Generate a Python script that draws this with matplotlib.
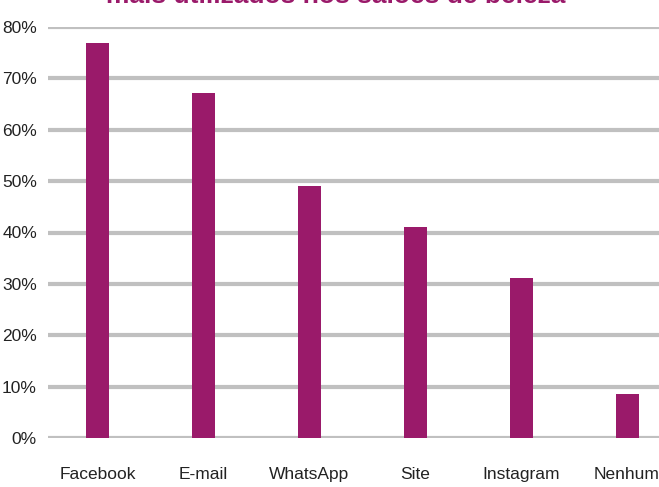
import numpy as np
import matplotlib.pyplot as plt

categories = ["Facebook", "E-mail", "WhatsApp", "Site", "Instagram", "Nenhum"]
values = [76.8, 67.1, 49.0, 41.0, 31.1, 8.6]
yticks = [0, 10, 20, 30, 40, 50, 60, 70, 80]

plt.rcParams['font.family'] = ["Liberation Sans", "DejaVu Sans"]

magenta = "#9a1a6a"

fig = plt.figure(figsize=(6.59, 4.87), dpi=100)
ax = fig.add_axes([48 / 659, 49 / 487, 632 / 659, 411 / 487])

x = np.arange(len(categories))
ax.bar(x, values, width=0.217, color=magenta, zorder=3)

ax.set_xlim(-0.468, 5.5)
ax.set_ylim(0, 80)
ax.set_yticks(yticks)
ax.set_yticklabels([f"{v}%" for v in yticks])
ax.set_xticks(x)
ax.set_xticklabels(categories)
ax.tick_params(axis="both", length=0, labelsize=12.5, colors="#222222")
ax.tick_params(axis="y", pad=8)
ax.tick_params(axis="x", pad=21)
ax.grid(axis="y", color="#c0c0c0", lw=3, zorder=1)
ax.set_axisbelow(True)
for s in ax.spines.values():
    s.set_visible(False)

fig.text(336 / 659, 1 - 3 / 487, "mais utilizados nos salões de beleza",
         ha="center", va="baseline", fontsize=19, fontweight="bold",
         color=magenta)

fig.savefig("out.png", dpi=100)
